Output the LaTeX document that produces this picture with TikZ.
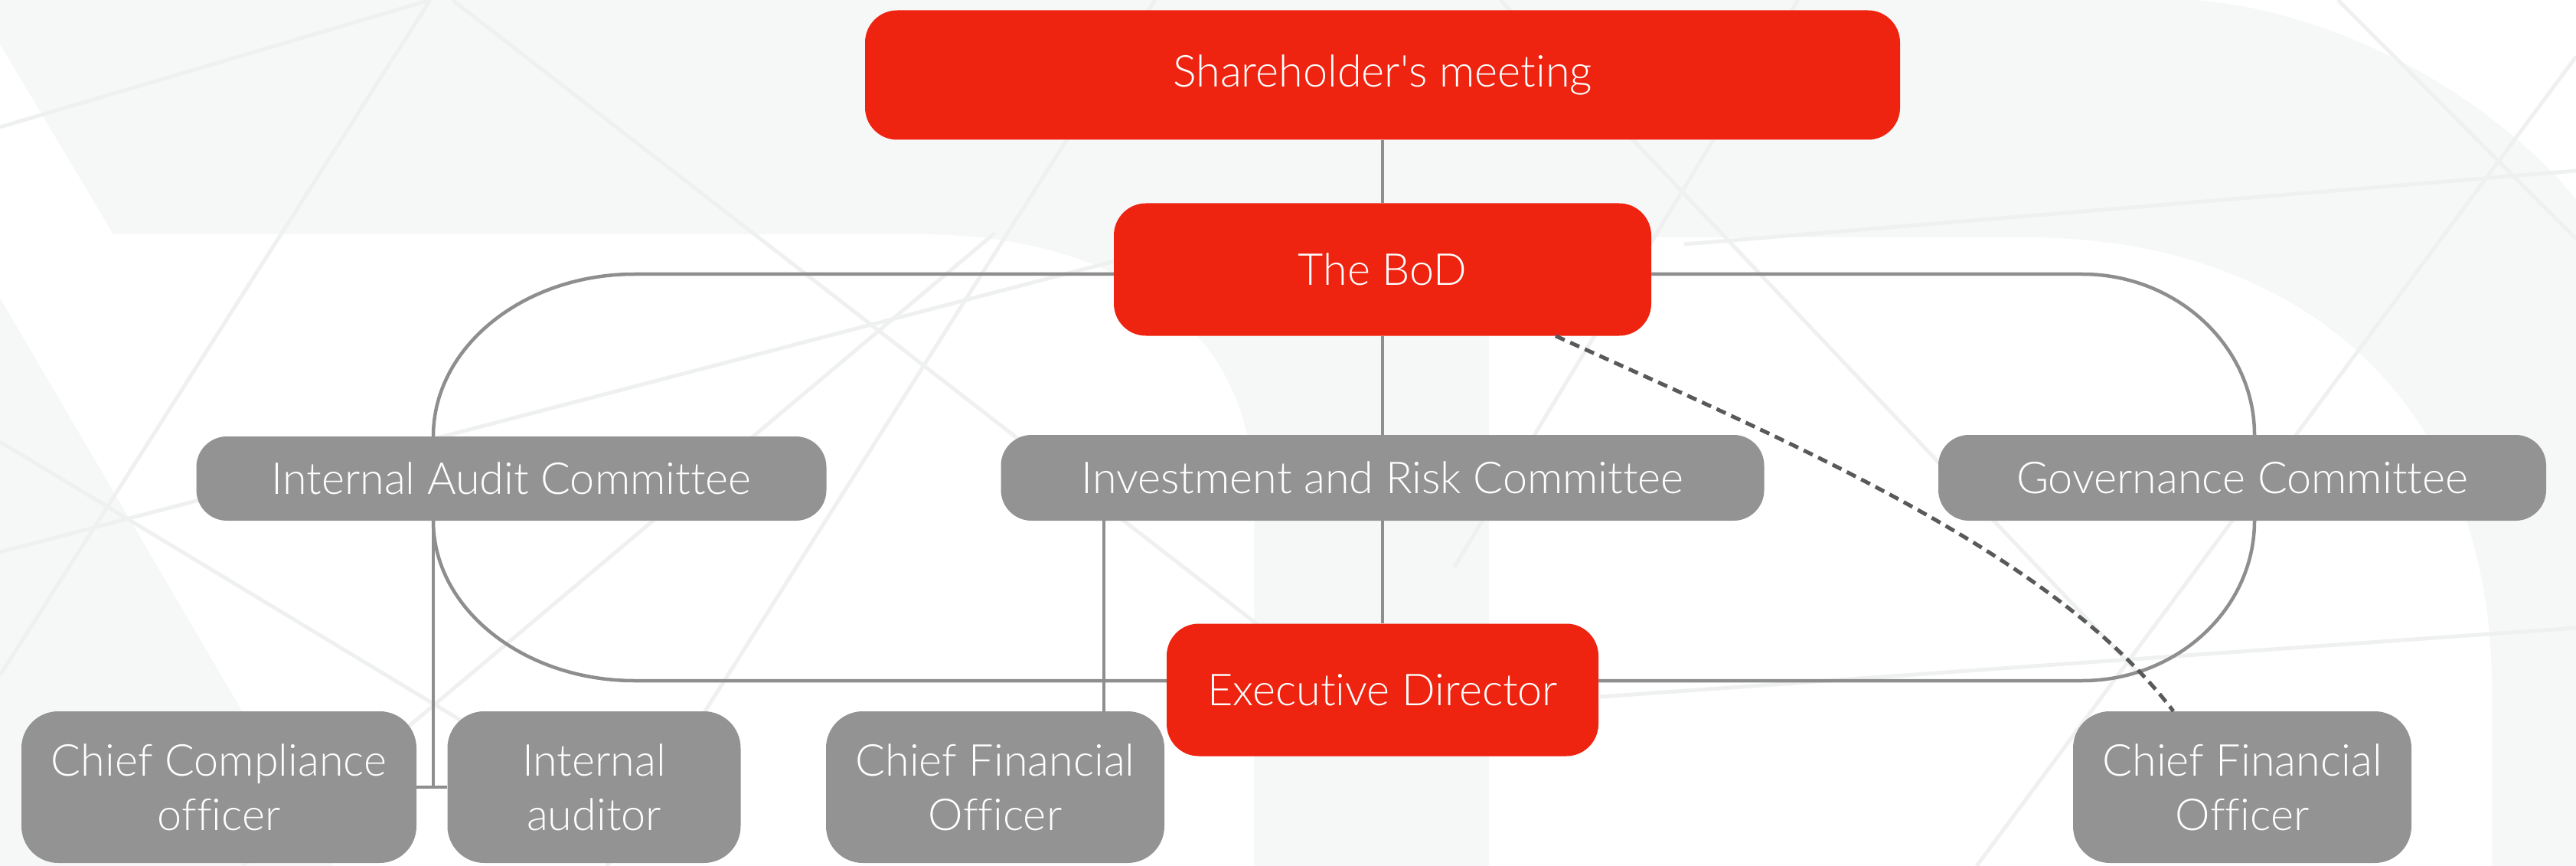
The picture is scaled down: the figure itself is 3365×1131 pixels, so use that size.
\documentclass[tikz,border=0pt]{standalone}
\usepackage{fontspec}
\setmainfont{Lato Light}[Ligatures={NoCommon,NoContextual}]
\definecolor{myred}{HTML}{EE2310}
\definecolor{mygray}{HTML}{939393}
\definecolor{linegray}{HTML}{8E8E8E}
\definecolor{dashgray}{HTML}{58595B}
\definecolor{bglight}{HTML}{F6F7F7}
\definecolor{meshgray}{HTML}{EFF0F0}
\begin{document}
\begin{tikzpicture}[x=1pt,y=-1pt,
  box/.style={rounded corners=42pt, text=white, align=center, inner sep=0pt,
    font=\fontsize{57.5}{71}\selectfont},
  redbox/.style={box, fill=myred},
  graybox/.style={box, fill=mygray},
  conn/.style={draw=linegray, line width=4.5pt},
  loopline/.style={draw=linegray, line width=4.5pt},
  dashline/.style={draw=dashgray, line width=5pt, dash pattern=on 13pt off 8pt},
  mesh/.style={draw=meshgray, line width=5pt}]
\useasboundingbox (0,0) rectangle (3365,1131);
% background
\fill[bglight] (0,0) rectangle (3365,1131);
\fill[white] (0,58) -- (148,306) -- (1200,306) .. controls (1450,306) and (1638,420) .. (1638,650) -- (1638,1131) -- (435,1131) -- (0,389) -- cycle;
\fill[white] (1945,1131) -- (1945,450) .. controls (1945,330) and (1990,310) .. (2100,310) -- (2646,310) .. controls (3000,310) and (3255,520) .. (3255,900) -- (3255,1131) -- cycle;
\fill[white] (2869,0) .. controls (3050,15) and (3250,120) .. (3365,260) -- (3365,0) -- cycle;
\draw[mesh] (0,166) -- (562,0);
\draw[mesh] (562,0) -- (0,882);
\draw[mesh] (591,0) -- (1700,860);
\draw[mesh] (0,577) -- (700,1000);
\draw[mesh] (0,721) -- (1460,340);
\draw[mesh] (317,1131) -- (1300,304);
\draw[mesh] (793,1131) -- (1509,0);
\draw[mesh] (3365,74) -- (2582,1131);
\draw[mesh] (3054,0) -- (3365,312);
\draw[mesh] (2200,319) -- (3365,223);
\draw[mesh] (2090,910) -- (3365,820);
\draw[mesh] (1960,0) -- (2794,880);
\draw[mesh] (2349,0) -- (1900,740);

% nodes
\node[redbox, minimum width=1352pt, minimum height=169pt] (sm) at (1806,98) {Shareholder\textquotesingle s meeting};
\node[redbox, minimum width=702pt, minimum height=173pt] (bod) at (1806,352) {The BoD};
\node[graybox, minimum width=823pt, minimum height=110pt, rounded corners=40pt] (iac) at (668,625) {Internal Audit Committee};
\node[graybox, minimum width=997pt, minimum height=112pt, rounded corners=40pt] (irc) at (1806,624) {Investment and Risk Committee};
\node[graybox, minimum width=794pt, minimum height=112pt, rounded corners=40pt] (gc) at (2929,624) {Governance Committee};
\node[redbox, minimum width=564pt, minimum height=173pt] (ed) at (1806,901) {Executive Director};
\node[graybox, minimum width=516pt, minimum height=198pt, rounded corners=48pt] (cco) at (286,1028) {Chief Compliance\\officer};
\node[graybox, minimum width=383pt, minimum height=198pt, rounded corners=48pt] (ia) at (776,1028) {Internal\\auditor};
\node[graybox, minimum width=442pt, minimum height=198pt, rounded corners=48pt] (cfo1) at (1300,1028) {Chief Financial\\Officer};
\node[graybox, minimum width=442pt, minimum height=198pt, rounded corners=48pt] (cfo2) at (2929,1028) {Chief Financial\\Officer};

% helper coordinates
\coordinate (iacx) at (566,0);
\coordinate (gcx) at (2945,0);
\coordinate (cfox) at (1442,0);
\coordinate (lt) at (829,358);
\coordinate (lb) at (829,889);
\coordinate (rt) at (2720,358);
\coordinate (rb) at (2720,889);

% connectors
\draw[conn] (sm.south) -- (bod.north);
\draw[conn] (bod.south) -- (irc.north);
\draw[conn] (irc.south) -- (ed.north);
\draw[conn] (irc.south -| cfox) -- (cfo1.north -| cfox);
\draw[conn] (iac.south -| iacx) -- (iacx |- cco.east);
\draw[conn] (cco.east) -- (ia.west);
% loop
\draw[loopline] ([yshift=-6pt]bod.west) -- (lt) .. controls (684,358) and (566,453) .. (iac.north -| iacx);
\draw[loopline] (iac.south -| iacx) .. controls (566,795) and (684,889) .. (lb) -- ([yshift=12pt]ed.west);
\draw[loopline] ([yshift=-6pt]bod.east) -- (rt) .. controls (2844,358) and (2945,453) .. (gc.north -| gcx);
\draw[loopline] (gc.south -| gcx) .. controls (2945,795) and (2844,889) .. (rb) -- ([yshift=12pt]ed.east);
% dashed
\draw[dashline] ([xshift=226pt]bod.south) .. controls (2332,575) and (2680,720) .. ([xshift=-90pt]cfo2.north);
\end{tikzpicture}
\end{document}
